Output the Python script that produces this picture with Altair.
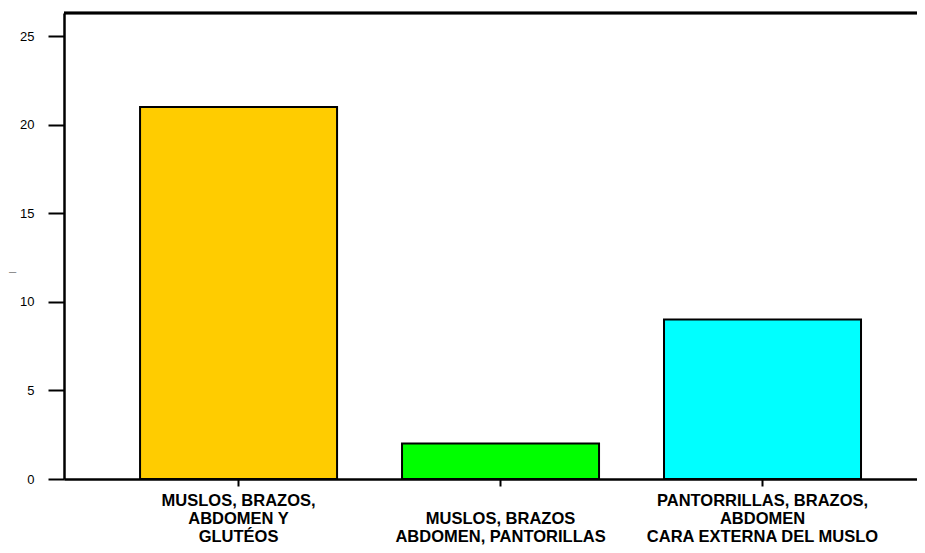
import altair as alt
import pandas as pd

categories = [
    "MUSLOS, BRAZOS,|ABDOMEN Y|GLUTÉOS",
    "|MUSLOS, BRAZOS|ABDOMEN, PANTORILLAS",
    "PANTORRILLAS, BRAZOS,|ABDOMEN|CARA EXTERNA DEL MUSLO",
]
values = [21, 2, 9]
colors = ["#FFCC00", "#00FF00", "#00FFFF"]
y_ticks = [0, 5, 10, 15, 20, 25]
y_max = 26.3

df = pd.DataFrame({"cat": categories, "val": values, "color": colors})

x_scale = alt.Scale(domain=categories, paddingInner=0.248, paddingOuter=0.252, align=0.576)
y_scale = alt.Scale(domain=[0, y_max], nice=False, zero=True)

bars = alt.Chart(df).mark_bar(stroke="black", strokeWidth=2).encode(
    x=alt.X("cat:N", scale=x_scale, sort=categories,
            axis=alt.Axis(title=None, labelAngle=0,
                          labelExpr="split(datum.label, '|')",
                          labelFont="Liberation Sans", labelFontSize=16.5,
                          labelFontWeight="bold", labelColor="black",
                          labelLineHeight=18, labelPadding=6,
                          labelBaseline="top", labelLimit=400,
                          tickColor="black", tickSize=7, tickWidth=2,
                          domainColor="black", domainWidth=2.5,
                          grid=False)),
    y=alt.Y("val:Q", scale=y_scale,
            axis=alt.Axis(values=y_ticks, title="–", titleAngle=0,
                          titleX=-52, titleY=258, titleAlign="center",
                          titleBaseline="middle", titleColor="#888888",
                          titleFont="Liberation Sans", titleFontSize=13,
                          titleFontWeight="normal",
                          labelFont="Liberation Sans", labelFontSize=13,
                          labelColor="black", labelPadding=14,
                          tickColor="black", tickSize=16, tickWidth=2,
                          domainColor="black", domainWidth=2.5,
                          grid=False)),
    color=alt.Color("color:N", scale=None),
)

top = alt.Chart(df).mark_rule(color="black", strokeWidth=2.5).encode(
    y=alt.datum(y_max)
)

chart = alt.layer(bars, top).properties(
    width=853, height=466,
    autosize=alt.AutoSizeParams(type="none"),
    padding={"left": 56, "top": 5, "right": 0, "bottom": 66},
    background="white",
).configure_view(stroke=None)

chart.save("out.html", embed_options={"renderer": "svg", "actions": False})
